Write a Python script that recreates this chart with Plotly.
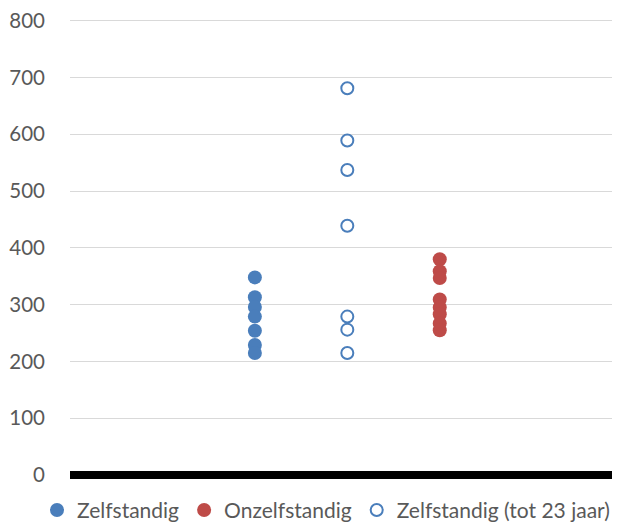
import plotly.graph_objects as go

# Values
zelfstandig = [348, 313, 296, 279, 254, 229, 215]
zelfstandig_23 = [681, 589, 537, 439, 279, 256, 215]
onzelfstandig = [380, 359, 347, 309, 295, 283, 267, 255]

# x positions of the three groups (category slots on a 0-6 axis)
x_zelf = 2
x_zelf23 = 3
x_onzelf = 4

blue = "#4A7EBB"
red = "#BE4B48"
text_grey = "#595959"

fig = go.Figure()

fig.add_trace(go.Scatter(
    x=[x_zelf] * len(zelfstandig), y=zelfstandig,
    mode="markers", name="Zelfstandig",
    marker=dict(symbol="circle", size=14, color=blue, line=dict(width=0)),
))
fig.add_trace(go.Scatter(
    x=[x_onzelf] * len(onzelfstandig), y=onzelfstandig,
    mode="markers", name="Onzelfstandig",
    marker=dict(symbol="circle", size=14, color=red, line=dict(width=0)),
))
fig.add_trace(go.Scatter(
    x=[x_zelf23] * len(zelfstandig_23), y=zelfstandig_23,
    mode="markers", name="Zelfstandig (tot 23 jaar)",
    marker=dict(symbol="circle-open", size=12, color=blue, line=dict(width=2, color=blue)),
))

# page body adds an 8px margin, so the figure is sized to fit inside the window
fig.update_layout(
    width=612, height=515,
    margin=dict(l=62, r=0, t=11, b=44, autoexpand=False),
    paper_bgcolor="white", plot_bgcolor="white",
    font=dict(family="Lato, 'Open Sans', sans-serif", color=text_grey, size=20),
    legend=dict(
        orientation="h", x=-0.06, xanchor="left", y=-0.068, yanchor="middle",
        font=dict(size=21, color=text_grey), itemwidth=30,
        tracegroupgap=0,
    ),
    showlegend=True,
)

fig.update_xaxes(range=[0, 5.95], showgrid=False, zeroline=False,
                 showticklabels=False, showline=False, automargin=False)
fig.update_yaxes(range=[-7, 803], tickvals=[0, 100, 200, 300, 400, 500, 600, 700, 800],
                 showgrid=True, gridcolor="#D9D9D9", gridwidth=1,
                 zeroline=True, zerolinecolor="black", zerolinewidth=8,
                 showline=False, ticks="", ticklabelstandoff=24, automargin=False,
                 ticklabeloverflow="allow",
                 tickfont=dict(size=20.5, color=text_grey))

fig.write_html("out.html")
